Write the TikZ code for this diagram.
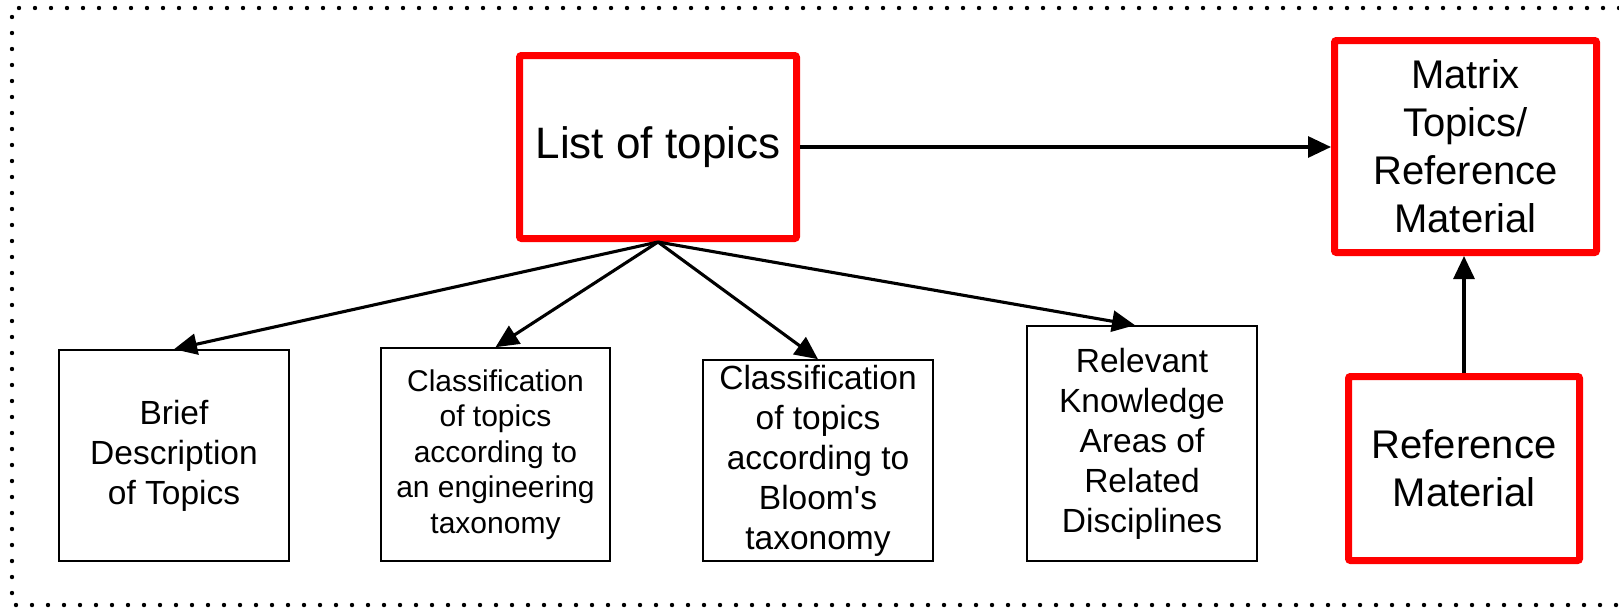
\documentclass[tikz,border=0pt]{standalone}
\usepackage{fontspec}
\setmainfont{Liberation Sans}[Ligatures=TeXOff]
\usetikzlibrary{arrows.meta}
\begin{document}
\begin{tikzpicture}[x=1pt,y=-1pt,
  redbox/.style={draw=red, line width=7pt, rounded corners=2pt, inner sep=0pt, align=center},
  thinbox/.style={draw=black, line width=1.6pt, inner sep=0pt, align=center},
  link/.style={line width=3.1pt, -{Triangle[length=23pt,width=21pt]}},
  bigtext/.style={font=\fontsize{44}{53}\selectfont},
  midtext/.style={font=\fontsize{40}{48}\selectfont},
  smalltext/.style={font=\fontsize{33.5}{40}\selectfont},
  tinytext/.style={font=\fontsize{30}{35.6}\selectfont},
]
\useasboundingbox (0,0) rectangle (1619,608);

% dotted frame (open on the right)
\draw[line width=4.4pt, line cap=round, dash pattern=on 0pt off 16pt]
  (1619,8) -- (12,8) -- (12,605) -- (1619,605);

% main boxes
\node[redbox, bigtext, minimum width=277pt, minimum height=183pt] (list) at (658,147) {List of topics};
\node[redbox, midtext, minimum width=262pt, minimum height=212pt] (matrix) at (1465.5,146.5)
  {Matrix\\Topics/\\Reference\\Material};
\node[redbox, midtext, minimum width=231pt, minimum height=184pt] (refmat) at (1464,468.5)
  {Reference\\Material};

% detail boxes
\node[thinbox, smalltext, minimum width=230pt, minimum height=211pt] (brief) at (174,455.5)
  {Brief\\Description\\of Topics};
\node[thinbox, tinytext, minimum width=229pt, minimum height=213pt] (engtax) at (495.5,454.5)
  {Classification\\of topics\\according to\\an engineering\\taxonomy};
\node[thinbox, smalltext, minimum width=230pt, minimum height=201pt] (bloom) at (818,460.5)
  {Classification\\of topics\\according to\\Bloom's\\taxonomy};
\node[thinbox, smalltext, minimum width=230pt, minimum height=235pt] (areas) at (1142,443.5)
  {Relevant\\Knowledge\\Areas of\\Related\\Disciplines};

% connectors
\draw[link] (list.east) -- (matrix.west |- list.east);
\draw[link] (refmat.north) -- (refmat.north |- matrix.south);
\draw[link] (list.south) -- (brief.north);
\draw[link] (list.south) -- (engtax.north);
\draw[link] (list.south) -- (bloom.north);
\draw[link] (list.south) -- ([xshift=-7pt]areas.north);
\end{tikzpicture}
\end{document}
